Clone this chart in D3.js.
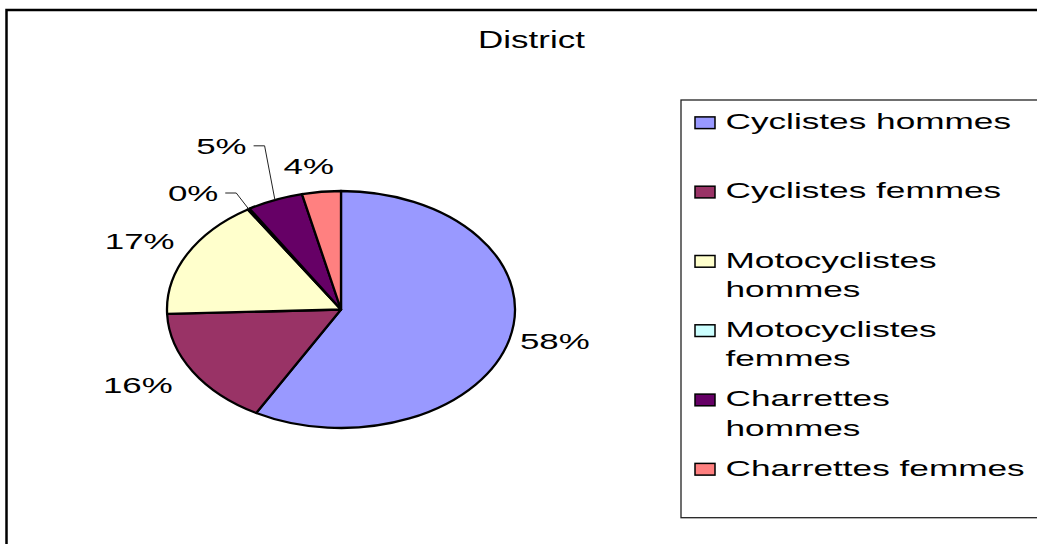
<!DOCTYPE html>
<html><head><meta charset="utf-8">
<script src="https://cdn.jsdelivr.net/npm/d3@7"></script>
<style>html,body{margin:0;padding:0;background:#fff;overflow:hidden}</style>
</head><body><svg id="c" width="1037" height="544"></svg>
<script>
const chartTitle = "District";
const categories = ["Cyclistes hommes","Cyclistes femmes","Motocyclistes hommes","Motocyclistes femmes","Charrettes hommes","Charrettes femmes"];
const values = [58.1, 16.3, 16.6, 0.2, 5.2, 3.6];
const colors = ["#9999FF","#993366","#FFFFCC","#CCFFFF","#660066","#FF8080"];

const FONT = "'Liberation Sans', Arial, sans-serif";
const svg = d3.select("#c");
const W = 1037, H = 544;
svg.append("rect").attr("width", W).attr("height", H).attr("fill", "#fff");
// outer chart frame
svg.append("rect").attr("x", 6.5).attr("y", 10).attr("width", 1100).attr("height", 600)
  .attr("fill", "none").attr("stroke", "#000").attr("stroke-width", 2.5);

// title
svg.append("text").attr("transform", "translate(531.5,47.5) scale(1.52,1)")
  .attr("text-anchor", "middle").style("font-family", FONT).style("font-size", "23px")
  .attr("fill", "#000").text(chartTitle);

// pie
const cx = 341, cy = 309.5, rx = 174, ry = 118.5;
const arcs = d3.pie().sort(null).value(d => d)(values);
const arcGen = d3.arc().innerRadius(0).outerRadius(ry);
const g = svg.append("g").attr("transform", `translate(${cx},${cy}) scale(${rx / ry},1)`);
g.selectAll("path").data(arcs).join("path")
  .attr("d", arcGen).attr("fill", (d, i) => colors[i])
  .attr("stroke", "#000").attr("stroke-width", 2.3).attr("stroke-linejoin", "round")
  .attr("vector-effect", "non-scaling-stroke");

// data labels
const total = d3.sum(values);
const fmt = d3.format(".0%");
const nudges = [[-3, -5], [-8, 0], [0, -1], [-23, 6], [-23, -30], [-11, 0]];
const withLeader = [false, false, false, true, true, false];
const LS = 1.55;
arcs.forEach((d, i) => {
  const a = (d.startAngle + d.endAngle) / 2, s = Math.sin(a), c = Math.cos(a);
  let px = cx + (rx + 14) * s + nudges[i][0];
  let py = cy - (ry + 26) * c + nudges[i][1];
  const anchor = s > 0.3 ? "start" : (s < -0.3 ? "end" : "middle");
  svg.append("text").attr("transform", `translate(${px},${py}) scale(${LS},1)`)
    .attr("text-anchor", anchor).attr("dominant-baseline", "central")
    .style("font-family", FONT).style("font-size", "22.5px").attr("fill", "#000")
    .text(fmt(d.value / total));
  if (withLeader[i]) {
    const x0 = px + 7, x1 = x0 + 11;
    const ex = cx + rx * s, ey = cy - ry * c;
    svg.append("path").attr("d", `M${x0},${py}L${x1},${py}L${ex},${ey}`)
      .attr("fill", "none").attr("stroke", "#222").attr("stroke-width", 1);
  }
});

// legend
const LGS = 1.6, maxW = 304;
svg.append("rect").attr("x", 681).attr("y", 100).attr("width", 400).attr("height", 417.7)
  .attr("fill", "#fff").attr("stroke", "#222").attr("stroke-width", 1.3);
const measure = svg.append("text").style("font-family", FONT).style("font-size", "22px").attr("opacity", 0);
function wrap(str) {
  const words = str.split(" "); const lines = []; let cur = "";
  words.forEach(w => {
    const test = cur ? cur + " " + w : w;
    measure.text(test);
    if (measure.node().getComputedTextLength() * LGS > maxW && cur) { lines.push(cur); cur = w; }
    else cur = test;
  });
  lines.push(cur); return lines;
}
categories.forEach((name, i) => {
  const y = 121.2 + i * 69.3;
  svg.append("rect").attr("x", 695).attr("y", y - 4.3).attr("width", 20).attr("height", 11.7)
    .attr("fill", colors[i]).attr("stroke", "#000").attr("stroke-width", 1.5);
  wrap(name).forEach((ln, j) => {
    svg.append("text").attr("transform", `translate(725.5,${y + j * 29.5}) scale(${LGS},1)`)
      .attr("dominant-baseline", "central").style("font-family", FONT).style("font-size", "22px")
      .attr("fill", "#000").text(ln);
  });
});
measure.remove();
</script></body></html>
